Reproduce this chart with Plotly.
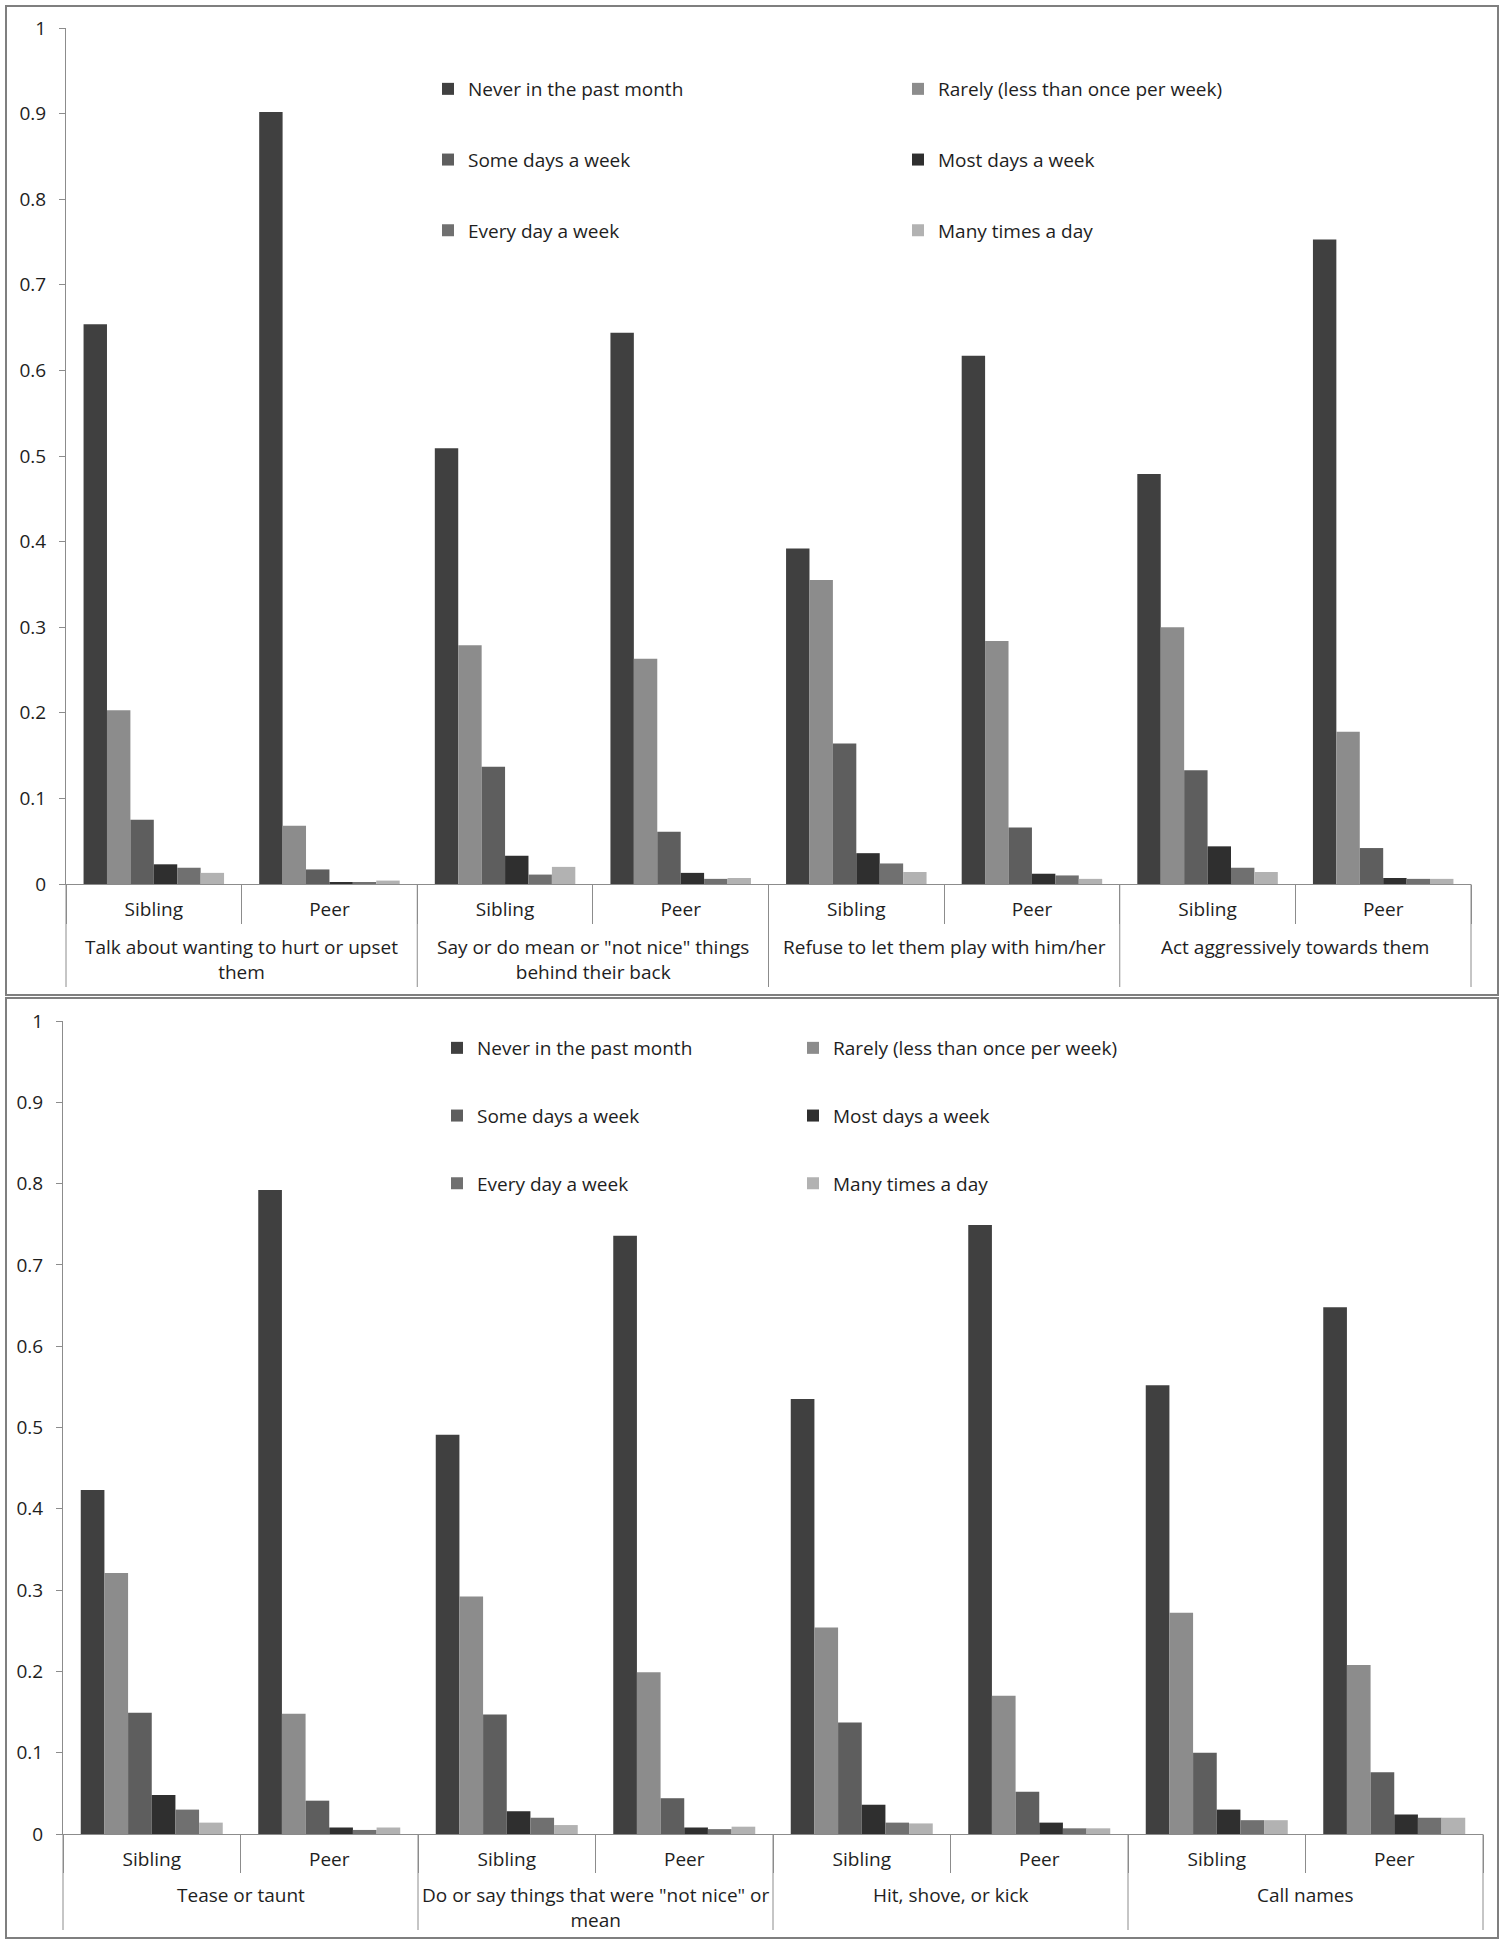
import plotly.graph_objects as go

# categories
top_groups = ["Talk about wanting to hurt or upset<br>them",
              'Say or do mean or "not nice" things<br>behind their back',
              "Refuse to let them play with him/her",
              "Act aggressively towards them"]
bottom_groups = ["Tease or taunt",
                 'Do or say things that were "not nice" or<br>mean',
                 "Hit, shove, or kick",
                 "Call names"]
targets = ["Sibling", "Peer"]
frequencies = ["Never in the past month", "Rarely (less than once per week)",
               "Some days a week", "Most days a week",
               "Every day a week", "Many times a day"]
colors = ["#404040", "#8c8c8c", "#5e5e5e", "#2f2f2f", "#707070", "#b2b2b2"]

# top panel values (Sib, Peer) x 4 behaviours
top_never = [0.654, 0.902, 0.509, 0.644, 0.392, 0.617, 0.479, 0.753]
top_rarely = [0.203, 0.068, 0.279, 0.263, 0.355, 0.284, 0.300, 0.178]
top_some = [0.075, 0.017, 0.137, 0.061, 0.164, 0.066, 0.133, 0.042]
top_most = [0.023, 0.002, 0.033, 0.013, 0.036, 0.012, 0.044, 0.007]
top_every = [0.019, 0.002, 0.011, 0.006, 0.024, 0.010, 0.019, 0.006]
top_many = [0.013, 0.004, 0.020, 0.007, 0.014, 0.006, 0.014, 0.006]

# bottom panel values
bot_never = [0.423, 0.792, 0.491, 0.736, 0.535, 0.749, 0.552, 0.648]
bot_rarely = [0.321, 0.148, 0.292, 0.199, 0.254, 0.170, 0.272, 0.208]
bot_some = [0.149, 0.041, 0.147, 0.044, 0.137, 0.052, 0.100, 0.076]
bot_most = [0.048, 0.008, 0.028, 0.008, 0.036, 0.014, 0.030, 0.024]
bot_every = [0.030, 0.005, 0.020, 0.006, 0.014, 0.007, 0.017, 0.020]
bot_many = [0.014, 0.008, 0.011, 0.009, 0.013, 0.007, 0.017, 0.020]

top_series = [top_never, top_rarely, top_some, top_most, top_every, top_many]
bot_series = [bot_never, bot_rarely, bot_some, bot_most, bot_every, bot_many]

W, H = 1504, 1945
FONT = "Open Sans, sans-serif"
GREY = "#8c8c8c"
TXT = "#1e1e1e"


def px_x(v):
    return v / W


def px_y(v):
    return 1 - v / H


def cat_keys(groups):
    # unique category keys: one per (behaviour, target)
    return [f"{gi}|{t}" for gi in range(len(groups)) for t in targets]


# per panel: groups, series, axis ids, legends, axis y px, label top px, divider end px
panels = [
    dict(groups=top_groups, series=top_series, xa="x", ya="y",
         legends=("legend", "legend2"), axis_px=884, label_px=932, div_px=987),
    dict(groups=bottom_groups, series=bot_series, xa="x2", ya="y2",
         legends=("legend3", "legend4"), axis_px=1834, label_px=1880, div_px=1930),
]

fig = go.Figure()

for p, pan in enumerate(panels):
    keys = cat_keys(pan["groups"])
    for i, (name, vals) in enumerate(zip(frequencies, pan["series"])):
        fig.add_trace(go.Bar(
            x=keys, y=vals, name=name,
            marker=dict(color=colors[i], line=dict(width=0)),
            xaxis=pan["xa"], yaxis=pan["ya"],
            legend=pan["legends"][i % 2],
            legendgroup=f"p{p}_{i}",
        ))

    # behaviour labels under each Sibling/Peer pair
    n = len(targets)
    for gi, g in enumerate(pan["groups"]):
        fig.add_annotation(x=gi * n + (n - 1) / 2, xref=pan["xa"],
                           y=px_y(pan["label_px"]), yref="paper",
                           text=g, showarrow=False, yanchor="top",
                           xanchor="center", align="center",
                           font=dict(size=19, family=FONT, color=TXT))
    # long dividers between behaviours
    dom = pan["xa"] + " domain"
    for k in range(len(pan["groups"]) + 1):
        fig.add_shape(type="line", xref=dom, yref="paper",
                      x0=k / len(pan["groups"]), x1=k / len(pan["groups"]),
                      y0=px_y(pan["axis_px"]), y1=px_y(pan["div_px"]),
                      line=dict(color=GREY, width=1))

axis_common = dict(showline=True, linecolor=GREY, linewidth=1,
                   tickcolor=GREY, showgrid=False, zeroline=False,
                   automargin=False,
                   tickfont=dict(size=19, color=TXT, family=FONT))
xcat = dict(type="category", ticks="outside", tickson="boundaries",
            ticklabelstandoff=8, **axis_common)
ylin = dict(range=[0, 1], dtick=0.1, ticks="outside", ticklen=6,
            ticklabelstandoff=9, **axis_common)

fig.update_layout(
    template="none",
    width=W, height=H,
    margin=dict(l=0, r=0, t=0, b=0, pad=0),
    paper_bgcolor="white", plot_bgcolor="white",
    font=dict(family=FONT, size=19, color=TXT),
    barmode="group", bargap=0.2, bargroupgap=0,
    xaxis=dict(domain=[px_x(66), px_x(1471)], anchor="y", ticklen=39,
               tickvals=cat_keys(top_groups),
               ticktext=targets * len(top_groups), **xcat),
    yaxis=dict(domain=[px_y(884), px_y(28)], anchor="x", **ylin),
    xaxis2=dict(domain=[px_x(63), px_x(1483)], anchor="y2", ticklen=38,
                tickvals=cat_keys(bottom_groups),
                ticktext=targets * len(bottom_groups), **xcat),
    yaxis2=dict(domain=[px_y(1834), px_y(1021)], anchor="x2", **ylin),
)

leg_common = dict(orientation="v", xanchor="left", yanchor="top",
                  bgcolor="rgba(0,0,0,0)", borderwidth=0,
                  traceorder="grouped", itemclick=False,
                  font=dict(size=19, family=FONT, color=TXT))
fig.update_layout(
    legend=dict(x=px_x(428), y=px_y(70), tracegroupgap=43, **leg_common),
    legend2=dict(x=px_x(898), y=px_y(70), tracegroupgap=43, **leg_common),
    legend3=dict(x=px_x(437), y=px_y(1029), tracegroupgap=40, **leg_common),
    legend4=dict(x=px_x(793), y=px_y(1029), tracegroupgap=40, **leg_common),
)

# chart-area frames around both panels
for y0, y1 in [(6, 995), (998, 1938)]:
    fig.add_shape(type="rect", xref="paper", yref="paper",
                  x0=px_x(6), x1=px_x(1498), y0=px_y(y1), y1=px_y(y0),
                  line=dict(color="#7f7f7f", width=2), layer="below")

fig.write_html("out.html", config={"displayModeBar": False},
               post_script="document.body.style.margin='0px';")
